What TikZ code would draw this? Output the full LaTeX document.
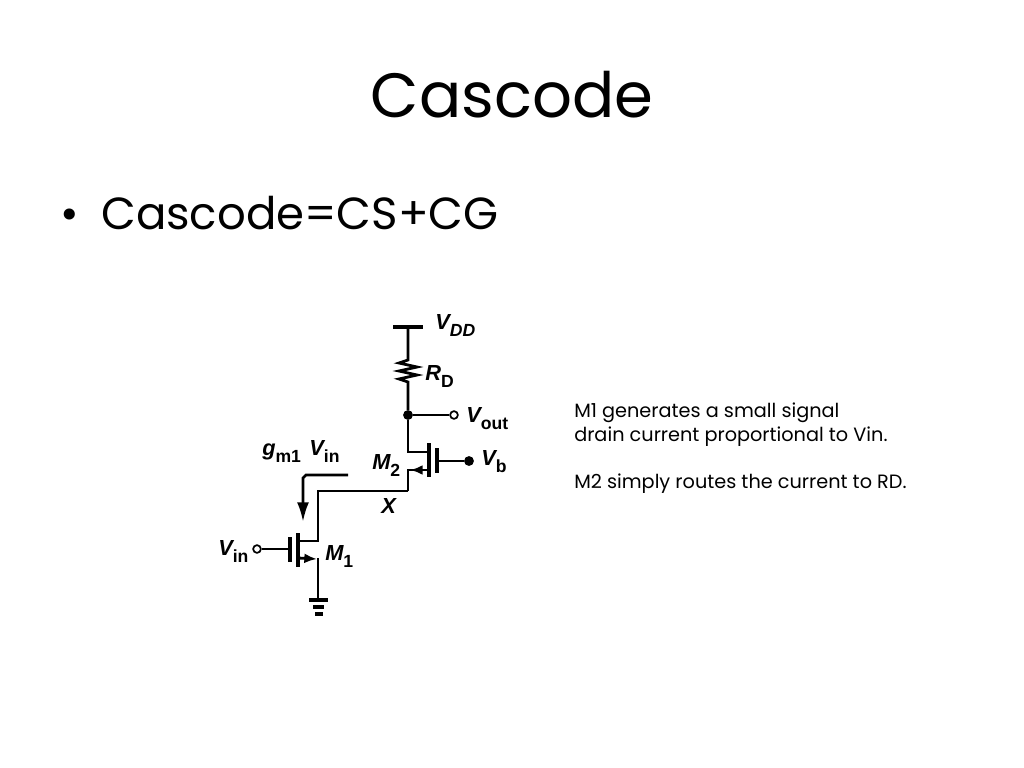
\documentclass[tikz,border=0pt]{standalone}
\usepackage{fontspec}
\setmainfont{Poppins}
\newfontfamily\helv{Liberation Sans}
\usetikzlibrary{arrows.meta,positioning,calc}
\newcommand{\subl}[1]{\raisebox{-5pt}{\helv\bfseries\upshape\fontsize{12.5}{13}\selectfont #1}}
\tikzset{
  wire/.style={line width=2pt,black},
  thinwire/.style={line width=1.4pt,black},
  plate/.style={line width=2.8pt,black},
  lbl/.style={font=\helv\bfseries\itshape\fontsize{15.5}{15.5}\selectfont,inner sep=0pt,anchor=base west},
  note/.style={font=\fontsize{13.7}{13.7}\selectfont,inner sep=0pt,anchor=base west},
  dotnode/.style={circle,fill=black,inner sep=0pt,minimum size=7pt},
  portnode/.style={circle,draw=black,fill=white,line width=1.2pt,inner sep=0pt,minimum size=5.5pt}
}
\begin{document}
\begin{tikzpicture}[x=0.025cm,y=-0.025cm]
  \useasboundingbox (0,0) rectangle (1024,768);
  % slide text
  \node[inner sep=0pt,anchor=base] (title) at (512,118) {\fontsize{44.5}{44.5}\selectfont Cascode};
  \node[inner sep=0pt,anchor=base west] (bullet) at (60,229) {\fontsize{32}{32}\selectfont •};
  \node[inner sep=0pt,anchor=base west] (item) at (101,229) {\fontsize{32}{32}\selectfont Cascode=CS+CG};
  \node[note] (noteA) at (574,417) {M1 generates a small signal};
  \node[note] (noteB) at (574,441) {drain current proportional to Vin.};
  \node[note] (noteC) at (574,488) {M2 simply routes the current to RD.};
  % supply and load
  \coordinate (vdd) at (408,327);
  \coordinate (rtop) at (408,360);
  \coordinate (rbot) at (408,384);
  \node[dotnode] (out) at (408,415) {};
  \node[portnode] (voutp) at (454,415) {};
  \draw[plate] (393,327) -- (423,327);
  \draw[wire] (vdd) -- (rtop) -- ++(-9,3) -- ++(18,4) -- ++(-18,4) -- ++(18,4) -- ++(-18,4) -- ++(9,3) -- (rbot) -- (out);
  \draw[thinwire] (out) -- (voutp);
  % M2
  \coordinate (m2d) at (429,452);
  \coordinate (m2s) at (429,470);
  \coordinate (xright) at (408,491);
  \node[dotnode] (vbp) at (469,461) {};
  \draw[wire] (out) -- (408,452) -- (m2d);
  \draw[plate] (429,443) -- (429,477);
  \draw[plate] (437,448) -- (437,473);
  \draw[wire] (437,461) -- (vbp);
  \draw[wire] (m2s) -- (408,470) -- (xright);
  \draw[wire,-{Latex[length=9pt,width=7pt]}] (m2s) -- (410,470);
  % node X and M1
  \coordinate (x) at (318,491);
  \coordinate (m1d) at (318,541);
  \coordinate (m1s) at (318,558);
  \coordinate (gnd) at (318,600);
  \draw[wire] (xright) -- (x) -- (m1d) -- (298,541);
  \draw[plate] (298,533) -- (298,567);
  \draw[plate] (290,537) -- (290,562);
  \node[portnode] (vinp) at (257,549) {};
  \draw[thinwire] (vinp) -- (290,549);
  \draw[wire,-{Latex[length=9pt,width=7pt]}] (298,558) -- (317,559);
  \draw[wire] (m1s) -- (gnd);
  % ground
  \draw[plate] (309,600) -- (328,600);
  \draw[plate] (313,607) -- (324,607);
  \draw[plate] (315,614) -- (323,614);
  % current arrow
  \draw[wire,-{Latex[length=14pt,width=8.5pt]}] (348,475) -- (306,475) -- (303,478) -- (303,522);
  % labels
  \node[lbl] (lvdd) at (435,329) {V\raisebox{-5pt}{\fontsize{12.5}{13}\selectfont DD}};
  \node[lbl] (lrd) at (425,380) {R\subl{D}};
  \node[lbl] (lvout) at (466,422) {V\subl{out}};
  \node[lbl] (lvb) at (481,465) {V\subl{b}};
  \node[lbl] (lm2) at (372,469) {M\subl{2}};
  \node[lbl] (lgm) at (262,455) {g\subl{m1}\hspace{6pt}V\subl{in}};
  \node[lbl] (lx) at (381,513) {X};
  \node[lbl] (lvin) at (218,555) {V\subl{in}};
  \node[lbl] (lm1) at (325,560) {M\subl{1}};
\end{tikzpicture}
\end{document}
